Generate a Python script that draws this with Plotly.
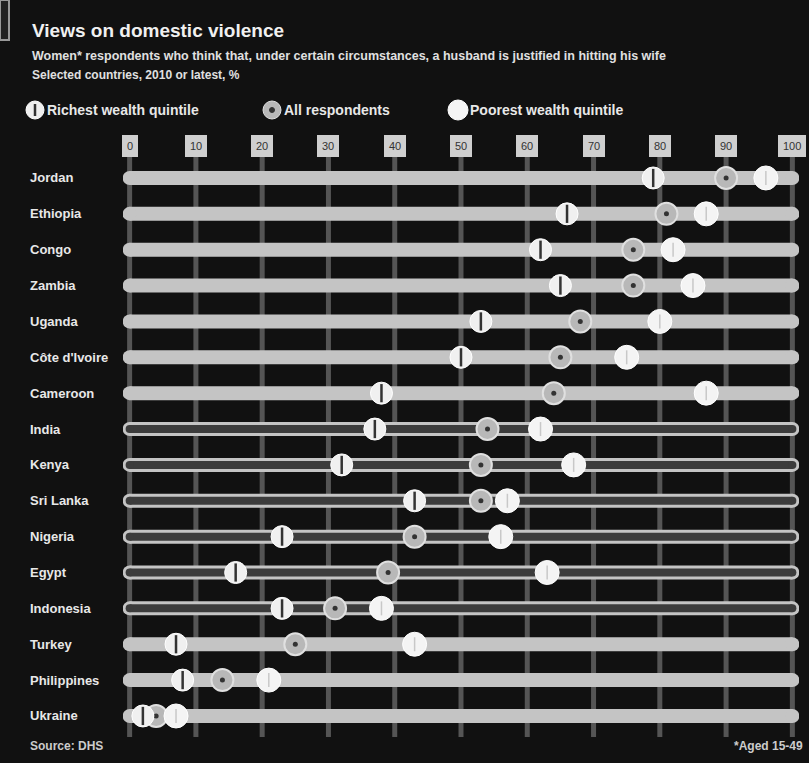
import plotly.graph_objects as go

countries = ["Jordan", "Ethiopia", "Congo", "Zambia", "Uganda", "Côte d'Ivoire", "Cameroon",
             "India", "Kenya", "Sri Lanka", "Nigeria", "Egypt", "Indonesia",
             "Turkey", "Philippines", "Ukraine"]
richest = [79, 66, 62, 65, 53, 50, 38, 37, 32, 43, 23, 16, 23, 7, 8, 2]
all_resp = [90, 81, 76, 76, 68, 65, 64, 54, 53, 53, 43, 39, 31, 25, 14, 4]
poorest = [96, 87, 82, 85, 80, 75, 87, 62, 67, 57, 56, 63, 38, 43, 21, 7]
hollow_rows = ["India", "Kenya", "Sri Lanka", "Nigeria", "Egypt", "Indonesia"]
tick_vals = [0, 10, 20, 30, 40, 50, 60, 70, 80, 90, 100]

BG = "#111111"
BAND = "#c4c4c4"
GRID = "#555555"
FONT = "Liberation Sans"

W, H = 809, 763
ML, MR, MT, MB = 123, 10, 150, 23


def py(p):  # pixel y -> paper y
    return 1 - (p - MT) / (H - MT - MB)


def px(p):  # pixel x -> paper x
    return (p - ML) / (W - ML - MR)


fig = go.Figure()
rows = list(range(len(countries)))

# vertical gridlines
for v in tick_vals:
    fig.add_shape(type="line", xref="x", yref="paper", x0=v, x1=v, y0=py(737), y1=py(150),
                  line=dict(color=GRID, width=5), layer="below")

# bands
for i, c in enumerate(countries):
    fig.add_trace(go.Scatter(x=[0, 100], y=[i, i], mode="lines+markers",
                             line=dict(color=BAND, width=14),
                             marker=dict(size=14, color=BAND, line=dict(width=0)),
                             hoverinfo="skip", showlegend=False))
    if c in hollow_rows:
        fig.add_trace(go.Scatter(x=[0, 100], y=[i, i], mode="lines+markers",
                                 line=dict(color="#3c3c3c", width=8),
                                 marker=dict(size=8, color="#3c3c3c", line=dict(width=0)),
                                 hoverinfo="skip", showlegend=False))

# all respondents
fig.add_trace(go.Scatter(x=all_resp, y=rows, mode="markers",
                         marker=dict(size=22, color="#b8b8b8", line=dict(color="#e0e0e0", width=2)),
                         showlegend=False))
fig.add_trace(go.Scatter(x=all_resp, y=rows, mode="markers",
                         marker=dict(size=5, color="#333333"), showlegend=False))
# poorest
fig.add_trace(go.Scatter(x=poorest, y=rows, mode="markers",
                         marker=dict(size=24, color="#f4f4f4", line=dict(color="#ffffff", width=1)),
                         showlegend=False))
fig.add_trace(go.Scatter(x=poorest, y=rows, mode="markers",
                         marker=dict(size=10, symbol="line-ns-open", color="#c8c8c8",
                                     line=dict(color="#c8c8c8", width=1.5)),
                         showlegend=False))
# richest
fig.add_trace(go.Scatter(x=richest, y=rows, mode="markers",
                         marker=dict(size=22, color="#f0f0f0", line=dict(color="#ffffff", width=1)),
                         showlegend=False))
fig.add_trace(go.Scatter(x=richest, y=rows, mode="markers",
                         marker=dict(size=13, symbol="line-ns-open", color="#333333",
                                     line=dict(color="#333333", width=2.5)),
                         showlegend=False))

# tick labels in pills at top
for v in tick_vals:
    fig.add_annotation(x=v, y=py(146), xref="x", yref="paper", yanchor="middle",
                       text=str(v), showarrow=False,
                       font=dict(family=FONT, size=11, color="#333333"),
                       bgcolor="#cfcfcf", borderpad=4, bordercolor="#cfcfcf", borderwidth=1)

# row labels
for i, c in enumerate(countries):
    fig.add_annotation(x=px(28), y=i, xref="paper", yref="y", xanchor="left",
                       text="<b>%s</b>" % c, showarrow=False,
                       font=dict(family=FONT, size=13, color="#e8e8e8"))

# title & subtitle
fig.add_annotation(x=px(30), y=py(30), xref="paper", yref="paper", xanchor="left", yanchor="middle",
                   text="<b>Views on domestic violence</b>", showarrow=False,
                   font=dict(family=FONT, size=19, color="#f0f0f0"))
fig.add_annotation(x=px(30), y=py(56), xref="paper", yref="paper", xanchor="left", yanchor="middle",
                   text="<b>Women* respondents who think that, under certain circumstances, a husband is justified in hitting his wife</b>",
                   showarrow=False, font=dict(family=FONT, size=12.5, color="#e0e0e0"))
fig.add_annotation(x=px(30), y=py(75), xref="paper", yref="paper", xanchor="left", yanchor="middle",
                   text="<b>Selected countries, 2010 or latest, %</b>",
                   showarrow=False, font=dict(family=FONT, size=12, color="#e0e0e0"))

# legend
legend_items = [(35, "Richest wealth quintile"), (272, "All respondents"), (458, "Poorest wealth quintile")]
for lx, lt in legend_items:
    fig.add_annotation(x=px(lx + 10), y=py(110), xref="paper", yref="paper", xanchor="left", yanchor="middle",
                       text="<b>%s</b>" % lt, showarrow=False,
                       font=dict(family=FONT, size=14, color="#e8e8e8"))


def circ(cx, cy, r, fill, line):
    fig.add_shape(type="circle", xref="paper", yref="paper", xsizemode="pixel", ysizemode="pixel",
                  xanchor=px(cx), yanchor=py(cy), x0=-r, x1=r, y0=-r, y1=r,
                  fillcolor=fill, line=dict(color=line, width=1))


circ(35, 110, 9, "#f0f0f0", "#ffffff")
fig.add_shape(type="line", xref="paper", yref="paper", xsizemode="pixel", ysizemode="pixel",
              xanchor=px(35), yanchor=py(110), x0=0, x1=0, y0=-6, y1=6, line=dict(color="#333", width=2.5))
circ(272, 110, 9, "#b8b8b8", "#e0e0e0")
circ(272, 110, 2.5, "#333333", "#333333")
circ(458, 110, 10, "#f4f4f4", "#ffffff")

# top-left tag
fig.add_shape(type="rect", xref="paper", yref="paper", x0=px(0), x1=px(9), y0=py(40), y1=py(0),
              fillcolor="#222222", line=dict(color="#999999", width=2))

# footer
fig.add_annotation(x=px(28), y=py(746), xref="paper", yref="paper", xanchor="left", yanchor="middle",
                   text="<b>Source: DHS</b>", showarrow=False,
                   font=dict(family=FONT, size=12, color="#cccccc"))
fig.add_annotation(x=px(805), y=py(746), xref="paper", yref="paper", xanchor="right", yanchor="middle",
                   text="<b>*Aged 15-49</b>", showarrow=False,
                   font=dict(family=FONT, size=12, color="#cccccc"))

fig.update_layout(
    width=W, height=H,
    margin=dict(l=ML, r=MR, t=MT, b=MB),
    paper_bgcolor=BG, plot_bgcolor=BG,
    xaxis=dict(range=[-1, 101], showgrid=False, zeroline=False, showticklabels=False, fixedrange=True),
    yaxis=dict(range=[15.67, -0.78], showgrid=False, zeroline=False, showticklabels=False, fixedrange=True),
    showlegend=False,
)
fig.write_html("out.html")
